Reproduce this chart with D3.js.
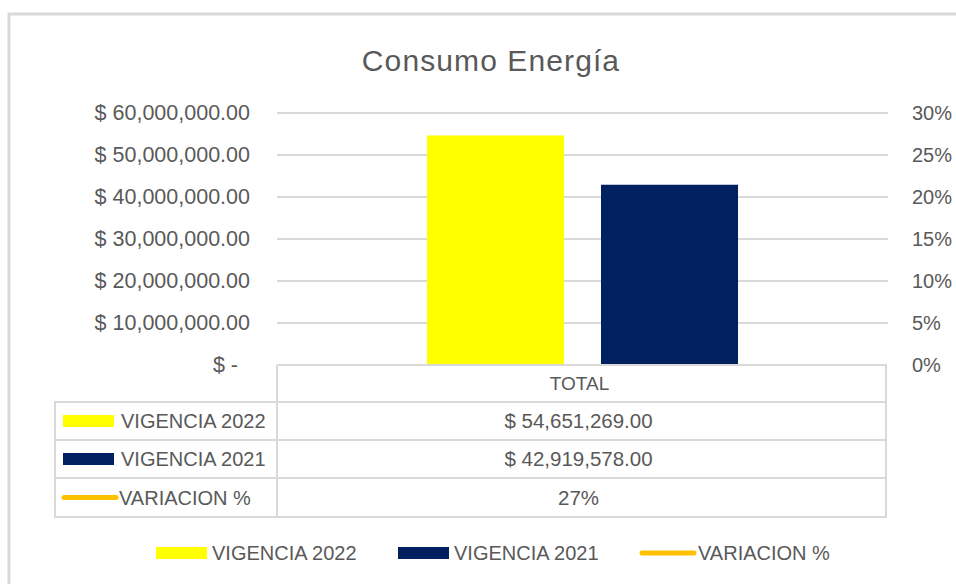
<!DOCTYPE html>
<html><head><meta charset="utf-8">
<script src="https://cdn.jsdelivr.net/npm/d3@7"></script>
<style>
html,body{margin:0;padding:0;background:#fff;}
svg{display:block;font-family:"Liberation Sans",Arial,sans-serif;}
</style></head>
<body><svg id="c" width="956" height="584"></svg>
<script>
// ---- data ----
const title = "Consumo Energía";
const categories = ["TOTAL"];
const seriesNames = ["VIGENCIA 2022", "VIGENCIA 2021"];
const vigencia2022 = [54651269];
const vigencia2021 = [42919578];
const variacionName = "VARIACION %";
const variacion = [0.27];
const leftTicks = [0, 10000000, 20000000, 30000000, 40000000, 50000000, 60000000];
const rightTicks = [0, 0.05, 0.10, 0.15, 0.20, 0.25, 0.30];
const colors = {"VIGENCIA 2022": "#FFFF00", "VIGENCIA 2021": "#002060", "VARIACION %": "#FFC000"};

const txt = "#595959", grid = "#d9d9d9";
const svg = d3.select("#c");

// frame
svg.append("rect").attr("x", 9).attr("y", 14).attr("width", 1100).attr("height", 1100)
  .attr("fill", "none").attr("stroke", grid).attr("stroke-width", 3);

// title
svg.append("text").attr("x", 491).attr("y", 71).attr("text-anchor", "middle")
  .attr("font-size", 30).attr("letter-spacing", 1.1).attr("fill", txt).text(title);

const plotL = 277, plotR = 888, plotT = 113, plotB = 365;
const y = d3.scaleLinear().domain([0, 60000000]).range([plotB, plotT]);
const y2 = d3.scaleLinear().domain([0, 0.30]).range([plotB, plotT]);
const x0 = d3.scaleBand().domain(categories).range([plotL, plotR]);
const x1 = d3.scaleBand().domain(seriesNames).range([0, x0.bandwidth()])
  .paddingInner(0.2126).paddingOuter(0.862);

// gridlines
svg.append("g").selectAll("line").data(leftTicks.slice(1)).join("line")
  .attr("x1", plotL).attr("x2", plotR).attr("y1", d => y(d)).attr("y2", d => y(d))
  .attr("stroke", grid).attr("stroke-width", 2);

// left axis
const fmtMoney = d => d === 0 ? "$ -" : "$ " + d3.format(",.2f")(d);
const la = svg.append("g").attr("transform", `translate(250,0)`)
  .call(d3.axisLeft(y).tickValues(leftTicks).tickFormat(fmtMoney).tickSize(0).tickPadding(0));
la.select(".domain").remove();
la.selectAll("text").attr("font-size", 21.5).attr("fill", txt)
  .attr("font-family", '"Liberation Sans",Arial,sans-serif')
  .attr("dx", d => d === 0 ? -12 : 0);

// right axis
const ra = svg.append("g").attr("transform", `translate(912,0)`)
  .call(d3.axisRight(y2).tickValues(rightTicks).tickFormat(d3.format(".0%")).tickSize(0).tickPadding(0));
ra.select(".domain").remove();
ra.selectAll("text").attr("font-size", 20).attr("fill", txt)
  .attr("font-family", '"Liberation Sans",Arial,sans-serif');

// bars
const rows = categories.map((c, i) => ({cat: c, vals: [
  {s: seriesNames[0], v: vigencia2022[i]}, {s: seriesNames[1], v: vigencia2021[i]}]}));
svg.append("g").selectAll("g").data(rows).join("g")
  .attr("transform", d => `translate(${x0(d.cat)},0)`)
  .selectAll("rect").data(d => d.vals).join("rect")
  .attr("x", d => x1(d.s)).attr("width", x1.bandwidth())
  .attr("y", d => y(d.v)).attr("height", d => y(0) - y(d.v))
  .attr("fill", d => colors[d.s]);

// variation line (single point -> nothing visible, as in Excel)
svg.append("path").datum(categories.map((c, i) => [x0(c) + x0.bandwidth() / 2, y2(variacion[i])]))
  .attr("d", d3.line()).attr("fill", "none").attr("stroke", colors[variacionName])
  .attr("stroke-width", 5).attr("stroke-linecap", "butt");

// data table
const tblL = 55, colX = 277, tblR = 886;
const rowY = [365, 402, 440, 478, 517];
const tg = svg.append("g").attr("stroke", grid).attr("stroke-width", 2).attr("fill", "none");
tg.append("path").attr("d", `M${colX},${plotB}H${tblR}V${rowY[4]}H${tblL}V${rowY[1]}H${tblR}M${colX},${plotB}V${rowY[4]}M${tblL},${rowY[2]}H${tblR}M${tblL},${rowY[3]}H${tblR}`);

const cx = (colX + tblR) / 2;
svg.append("text").attr("x", x0(categories[0]) + x0.bandwidth() / 2 - 3).attr("y", (rowY[0] + rowY[1]) / 2)
  .attr("dy", "0.36em").attr("text-anchor", "middle").attr("font-size", 19).attr("fill", txt).text(categories[0]);

const tableRows = [
  {name: seriesNames[0], val: "$ " + d3.format(",.2f")(vigencia2022[0]), type: "rect"},
  {name: seriesNames[1], val: "$ " + d3.format(",.2f")(vigencia2021[0]), type: "rect"},
  {name: variacionName, val: d3.format(".0%")(variacion[0]), type: "line"}
];
tableRows.forEach((r, i) => {
  const cy = (rowY[i + 1] + rowY[i + 2]) / 2;
  if (r.type === "rect") {
    svg.append("rect").attr("x", 63).attr("y", cy - 6).attr("width", 51).attr("height", 12).attr("fill", colors[r.name]);
  } else {
    svg.append("line").attr("x1", 64).attr("x2", 116).attr("y1", cy).attr("y2", cy)
      .attr("stroke", colors[r.name]).attr("stroke-width", 5).attr("stroke-linecap", "round");
  }
  svg.append("text").attr("x", r.type === "rect" ? 121 : 119).attr("y", cy).attr("dy", "0.36em")
    .attr("font-size", 20).attr("fill", txt).text(r.name);
  svg.append("text").attr("x", cx - 3).attr("y", cy).attr("dy", "0.36em").attr("text-anchor", "middle")
    .attr("font-size", 20.5).attr("fill", txt).text(r.val);
});

// legend
const legend = [
  {name: seriesNames[0], x: 156, type: "rect"},
  {name: seriesNames[1], x: 398, type: "rect"},
  {name: variacionName, x: 642, type: "line"}
];
const ly = 553;
legend.forEach(l => {
  if (l.type === "rect") {
    svg.append("rect").attr("x", l.x).attr("y", ly - 6).attr("width", 51).attr("height", 12).attr("fill", colors[l.name]);
  } else {
    svg.append("line").attr("x1", l.x).attr("x2", l.x + 52).attr("y1", ly).attr("y2", ly)
      .attr("stroke", colors[l.name]).attr("stroke-width", 5).attr("stroke-linecap", "round");
  }
  svg.append("text").attr("x", l.x + 56).attr("y", ly).attr("dy", "0.36em")
    .attr("font-size", 20).attr("fill", txt).text(l.name);
});
</script></body></html>
